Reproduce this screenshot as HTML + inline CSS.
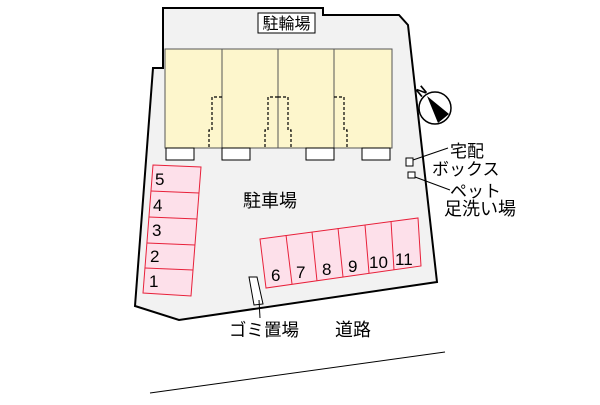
<!DOCTYPE html><html><head><meta charset="utf-8"><style>body{margin:0;background:#fff}svg text{font-family:"Liberation Sans","Noto Sans CJK JP",sans-serif;fill:#000}</style></head><body>
<svg width="600" height="400" viewBox="0 0 600 400" xmlns="http://www.w3.org/2000/svg">
<polygon points="163,8 323,8 323,15 399,15 408,25 437,282 179,320 135,306 153,68 163,68" fill="#f2f2f2" stroke="#000" stroke-width="2"/>
<rect x="165" y="49" width="227" height="99" fill="#fdf6cc" stroke="#555" stroke-width="1"/>
<g stroke="#555" stroke-width="1"><line x1="222" y1="49" x2="222" y2="148"/><line x1="278" y1="49" x2="278" y2="148"/><line x1="334" y1="49" x2="334" y2="148"/></g>
<g fill="none" stroke="#000" stroke-width="1.2" stroke-dasharray="3,2">
<path d="M222,97 H212 V130 H209 V148"/><path d="M278,97 H268 V130 H265 V148"/><path d="M278,97 H288 V130 H291 V148"/><path d="M334,97 H344 V130 H347 V148"/></g>
<g fill="#fff" stroke="#000" stroke-width="1"><rect x="166" y="148" width="28" height="12"/><rect x="222" y="148" width="28" height="12"/><rect x="306" y="148" width="28" height="12"/><rect x="362" y="148" width="28" height="12"/></g>
<rect x="258" y="13" width="57" height="20" fill="#fff" stroke="#000"/>
<text x="286.5" y="29" font-size="16" text-anchor="middle">駐輪場</text>
<polygon points="153,165 201,167 191,296 143,293" fill="#fde0ea" stroke="#e8203a" stroke-width="1"/>
<g stroke="#e8203a"><line x1="151" y1="191" x2="199" y2="193"/><line x1="149" y1="217" x2="197" y2="219"/><line x1="147" y1="243" x2="195" y2="245"/><line x1="145" y1="268" x2="193" y2="270"/></g>
<g font-size="17"><text x="155" y="185">5</text><text x="153" y="211">4</text><text x="152" y="236">3</text><text x="150" y="262">2</text><text x="149" y="287">1</text></g>
<polygon points="260,239 418,218 421,266 266,288" fill="#fde0ea" stroke="#e8203a" stroke-width="1"/>
<g stroke="#e8203a"><line x1="286" y1="235" x2="292" y2="284"/><line x1="312" y1="232" x2="317" y2="281"/><line x1="338" y1="228" x2="343" y2="277"/><line x1="365" y1="225" x2="369" y2="273"/><line x1="391" y1="221" x2="394" y2="270"/></g>
<g font-size="17"><text x="271" y="281">6</text><text x="296" y="278">7</text><text x="322" y="275">8</text><text x="348" y="272">9</text><text x="369" y="268">10</text><text x="395" y="265">11</text></g>
<text x="243" y="207" font-size="18">駐車場</text>
<polygon points="249,277 257,277 263,304 254,305" fill="#fff" stroke="#000"/>
<line x1="259" y1="300" x2="260" y2="318" stroke="#000"/>
<text x="229" y="336" font-size="17.5">ゴミ置場</text>
<text x="335" y="336" font-size="18">道路</text>
<line x1="150" y1="393" x2="445" y2="352" stroke="#000" stroke-width="1"/>
<circle cx="435" cy="108" r="16" fill="#fff" stroke="#000" stroke-width="1.5"/>
<polygon points="427,96 449,114 438,123" fill="#000"/>
<text x="416" y="95" font-size="13" font-weight="bold" transform="rotate(-40 422 90)">N</text>
<rect x="406" y="158" width="7" height="8" fill="#fff" stroke="#000"/>
<rect x="408" y="172" width="7" height="6" fill="#fff" stroke="#000"/>
<line x1="413" y1="160" x2="448" y2="148" stroke="#000"/>
<line x1="415" y1="177" x2="450" y2="190" stroke="#000"/>
<text x="450" y="157" font-size="17">宅配</text>
<text x="432" y="175" font-size="17">ボックス</text>
<text x="450" y="197" font-size="17">ペット</text>
<text x="444" y="215" font-size="18">足洗い場</text>
</svg></body></html>
